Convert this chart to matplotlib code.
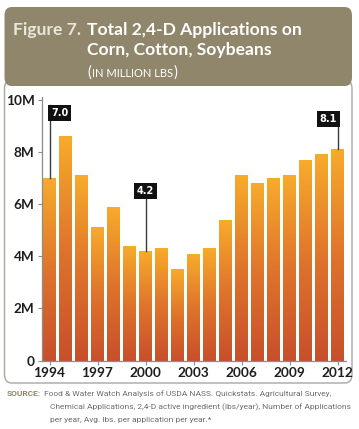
import matplotlib.pyplot as plt
import numpy as np
from matplotlib.patches import FancyBboxPatch
from matplotlib.colors import LinearSegmentedColormap

# data (million lbs)
years = list(range(1994, 2013))
values = [7.0, 8.6, 7.1, 5.1, 5.9, 4.4, 4.2, 4.3, 3.5, 4.1, 4.3, 5.4,
          7.1, 6.8, 7.0, 7.1, 7.7, 7.9, 8.1]
tick_years = [1994, 1997, 2000, 2003, 2006, 2009, 2012]
ytick_vals = [0, 2, 4, 6, 8, 10]
ytick_labels = ["0", "2M", "4M", "6M", "8M", "10M"]
callouts = {1994: "7.0", 2000: "4.2", 2012: "8.1"}

W, H = 359, 429
fig = plt.figure(figsize=(W / 100, H / 100), dpi=100)
fig.patch.set_facecolor("white")
renderer = fig.canvas.get_renderer()

def fx(px):
    return px / W

def fy(py):
    return 1 - py / H

# white panel with grey border
panel = FancyBboxPatch((fx(4.5), fy(383)), fx(347.5), (383 - 80) / H,
                       boxstyle="round,pad=0,rounding_size=0.02",
                       transform=fig.transFigure, facecolor="white",
                       edgecolor="#a9a79f", lw=1.0, zorder=-1)
fig.patches.append(panel)

# header band
header = FancyBboxPatch((fx(4.5), fy(86)), fx(347.5), (86 - 7) / H,
                        boxstyle="round,pad=0,rounding_size=0.02",
                        transform=fig.transFigure, facecolor="#8f866b",
                        edgecolor="none", zorder=1)
fig.patches.append(header)

title_font = "Lato"
fig.text(fx(13), fy(35), "Figure 7.", color="#e9e6dc", fontsize=12.6,
         fontweight="bold", family=title_font, va="baseline")
fig.text(fx(87), fy(35), "Total 2,4-D Applications on", color="white",
         fontsize=12.6, fontweight="bold", family=title_font, va="baseline")
fig.text(fx(87), fy(55), "Corn, Cotton, Soybeans", color="white",
         fontsize=12.6, fontweight="bold", family=title_font, va="baseline")

# subtitle in small caps, placed piece by piece
x = 87
for piece, size in [("(", 10.5), ("IN MILLION LBS", 8.0), (")", 10.5)]:
    t = fig.text(fx(x), fy(77), piece, color="white", fontsize=size,
                 family=title_font, va="baseline")
    x += t.get_window_extent(renderer).width + 0.8

# plot area
ax = fig.add_axes([fx(41.5), fy(360.5), fx(304), (360.5 - 97) / H])

cmap = LinearSegmentedColormap.from_list("bar", ["#c84f2b", "#df742c", "#f7ab2b"])
grad = np.linspace(0, 1, 256).reshape(-1, 1)
bw = 0.8
for yr, v in zip(years, values):
    ax.imshow(grad, extent=[yr - bw / 2, yr + bw / 2, 0, v], origin="lower",
              cmap=cmap, aspect="auto", zorder=2)
ax.set_xlim(1993.5, 2012.5)
ax.set_ylim(0, 10.1)

# callouts
box = dict(boxstyle="square,pad=0.3", facecolor="#111111", edgecolor="none")
for yr, lab in callouts.items():
    v = values[years.index(yr)]
    if yr == 1994:
        ybox, ytop, ha, dx = 9.48, 9.8, "left", 0.1
    elif yr == 2000:
        ybox, ytop, ha, dx = 6.5, 6.5, "center", 0
    else:
        ybox, ytop, ha, dx = 9.25, 9.25, "right", -0.02
    ax.plot([yr, yr], [v, ytop], color="#3a3a3a", lw=1.0, zorder=3)
    ax.text(yr + dx, ybox, lab, color="white", fontsize=7, fontweight="bold",
            ha=ha, va="center", bbox=box, zorder=4, family="DejaVu Sans")

for s in ["top", "right"]:
    ax.spines[s].set_visible(False)
for s in ["left", "bottom"]:
    ax.spines[s].set_color("#8c8c8c")
    ax.spines[s].set_linewidth(0.9)

ax.set_xticks(tick_years)
ax.set_xticklabels([str(t) for t in tick_years])
ax.set_yticks(ytick_vals)
ax.set_yticklabels(ytick_labels)
ax.tick_params(axis="both", colors="#8c8c8c", length=3, width=0.8,
               labelcolor="#1e1e1e", labelsize=9.8, pad=2)
for lab in ax.get_xticklabels() + ax.get_yticklabels():
    lab.set_fontweight("bold")
    lab.set_family("Lato")

# source note, size chosen so the widest line fits like the original
src_font = "Roboto"
src_lines = ["Food & Water Watch Analysis of USDA NASS. Quickstats. Agricultural Survey,",
             "Chemical Applications, 2,4-D active ingredient (lbs/year), Number of Applications",
             "per year, Avg. lbs. per application per year.*"]
probe = fig.text(0, 0, src_lines[1], fontsize=10, family=src_font)
src_size = min(6.8, 10 * 298 / probe.get_window_extent(renderer).width)
probe.remove()

s = fig.text(fx(7), fy(396), "SOURCE:", color="#8f866b", fontsize=src_size,
             fontweight="bold", family=src_font, va="baseline")
x0 = 7 + s.get_window_extent(renderer).width + 3
fig.text(fx(x0), fy(396), src_lines[0], color="#6d6d6d", fontsize=src_size,
         family=src_font, va="baseline")
fig.text(fx(50), fy(409), src_lines[1], color="#6d6d6d", fontsize=src_size,
         family=src_font, va="baseline")
fig.text(fx(50), fy(422), src_lines[2], color="#6d6d6d", fontsize=src_size,
         family=src_font, va="baseline")

fig.savefig("out.png", dpi=100)
